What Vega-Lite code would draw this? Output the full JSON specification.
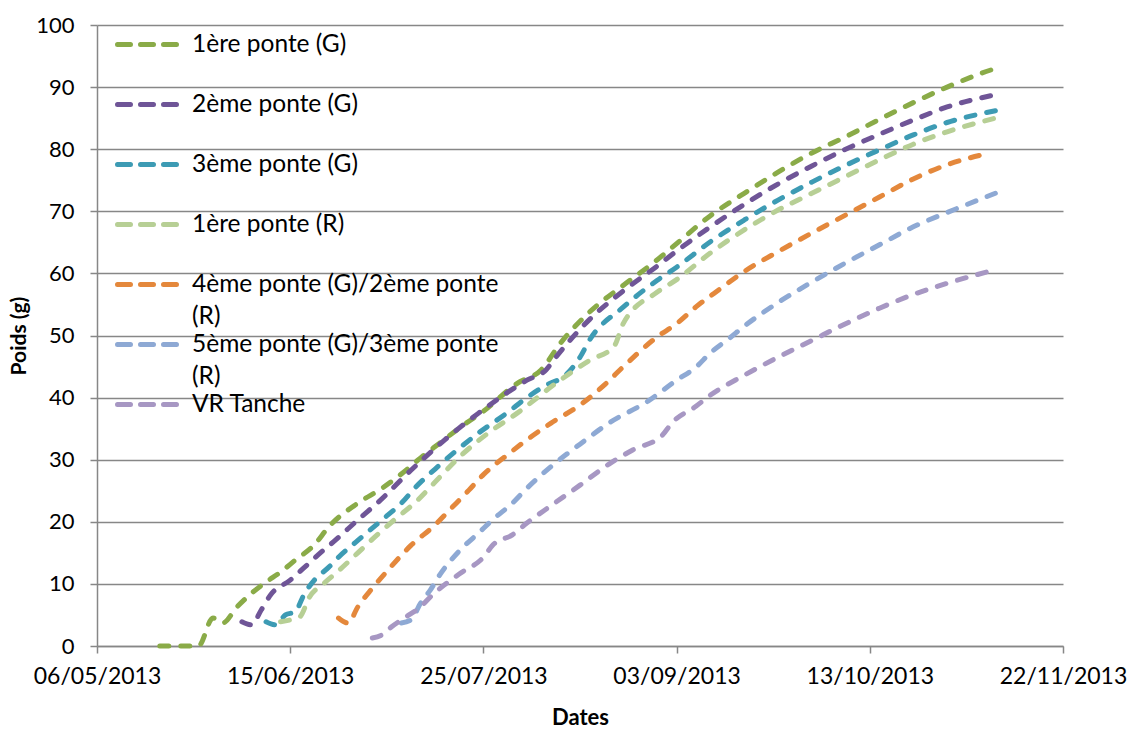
{
  "$schema": "https://vega.github.io/schema/vega-lite/v6.json",
  "width": 966,
  "height": 621,
  "autosize": {"type": "none"},
  "padding": {"left": 97, "top": 25, "right": 64, "bottom": 85},
  "background": "white",
  "config": {"view": {"stroke": null}, "font": "Lato"},
  "datasets": {
    "rows": [
      {"serie": "1ère ponte (G)", "date": "2013-05-19", "poids": 0},
      {"serie": "1ère ponte (G)", "date": "2013-05-27", "poids": 0},
      {"serie": "1ère ponte (G)", "date": "2013-05-30", "poids": 4.5},
      {"serie": "1ère ponte (G)", "date": "2013-06-01", "poids": 3.7},
      {"serie": "1ère ponte (G)", "date": "2013-06-04", "poids": 6.3},
      {"serie": "1ère ponte (G)", "date": "2013-06-07", "poids": 8.5},
      {"serie": "1ère ponte (G)", "date": "2013-06-10", "poids": 10.3},
      {"serie": "1ère ponte (G)", "date": "2013-06-13", "poids": 11.9},
      {"serie": "1ère ponte (G)", "date": "2013-06-16", "poids": 13.8},
      {"serie": "1ère ponte (G)", "date": "2013-06-20", "poids": 16.3},
      {"serie": "1ère ponte (G)", "date": "2013-06-23", "poids": 19.2},
      {"serie": "1ère ponte (G)", "date": "2013-06-29", "poids": 23},
      {"serie": "1ère ponte (G)", "date": "2013-07-04", "poids": 25.4},
      {"serie": "1ère ponte (G)", "date": "2013-07-08", "poids": 27.7},
      {"serie": "1ère ponte (G)", "date": "2013-07-12", "poids": 30.3},
      {"serie": "1ère ponte (G)", "date": "2013-07-16", "poids": 32.7},
      {"serie": "1ère ponte (G)", "date": "2013-07-20", "poids": 35.1},
      {"serie": "1ère ponte (G)", "date": "2013-07-25", "poids": 37.8},
      {"serie": "1ère ponte (G)", "date": "2013-08-01", "poids": 42.3},
      {"serie": "1ère ponte (G)", "date": "2013-08-06", "poids": 44.5},
      {"serie": "1ère ponte (G)", "date": "2013-08-10", "poids": 48.8},
      {"serie": "1ère ponte (G)", "date": "2013-08-16", "poids": 53.8},
      {"serie": "1ère ponte (G)", "date": "2013-08-23", "poids": 58.1},
      {"serie": "1ère ponte (G)", "date": "2013-08-30", "poids": 62.2},
      {"serie": "1ère ponte (G)", "date": "2013-09-03", "poids": 64.8},
      {"serie": "1ère ponte (G)", "date": "2013-09-10", "poids": 69.3},
      {"serie": "1ère ponte (G)", "date": "2013-09-17", "poids": 72.9},
      {"serie": "1ère ponte (G)", "date": "2013-09-24", "poids": 76.3},
      {"serie": "1ère ponte (G)", "date": "2013-10-01", "poids": 79.4},
      {"serie": "1ère ponte (G)", "date": "2013-10-08", "poids": 82},
      {"serie": "1ère ponte (G)", "date": "2013-10-15", "poids": 84.8},
      {"serie": "1ère ponte (G)", "date": "2013-10-22", "poids": 87.5},
      {"serie": "1ère ponte (G)", "date": "2013-10-29", "poids": 90},
      {"serie": "1ère ponte (G)", "date": "2013-11-05", "poids": 92.2},
      {"serie": "1ère ponte (G)", "date": "2013-11-08", "poids": 93},

      {"serie": "2ème ponte (G)", "date": "2013-06-05", "poids": 3.9},
      {"serie": "2ème ponte (G)", "date": "2013-06-07", "poids": 3.4},
      {"serie": "2ème ponte (G)", "date": "2013-06-09", "poids": 5.8},
      {"serie": "2ème ponte (G)", "date": "2013-06-11", "poids": 8.3},
      {"serie": "2ème ponte (G)", "date": "2013-06-15", "poids": 10.6},
      {"serie": "2ème ponte (G)", "date": "2013-06-18", "poids": 12.7},
      {"serie": "2ème ponte (G)", "date": "2013-06-22", "poids": 15.5},
      {"serie": "2ème ponte (G)", "date": "2013-06-24", "poids": 16.8},
      {"serie": "2ème ponte (G)", "date": "2013-06-29", "poids": 20.3},
      {"serie": "2ème ponte (G)", "date": "2013-07-03", "poids": 23},
      {"serie": "2ème ponte (G)", "date": "2013-07-10", "poids": 28.3},
      {"serie": "2ème ponte (G)", "date": "2013-07-17", "poids": 33.2},
      {"serie": "2ème ponte (G)", "date": "2013-07-24", "poids": 37.5},
      {"serie": "2ème ponte (G)", "date": "2013-08-03", "poids": 42.8},
      {"serie": "2ème ponte (G)", "date": "2013-08-07", "poids": 44.5},
      {"serie": "2ème ponte (G)", "date": "2013-08-09", "poids": 46.5},
      {"serie": "2ème ponte (G)", "date": "2013-08-16", "poids": 52.6},
      {"serie": "2ème ponte (G)", "date": "2013-08-23", "poids": 57.2},
      {"serie": "2ème ponte (G)", "date": "2013-08-30", "poids": 61.2},
      {"serie": "2ème ponte (G)", "date": "2013-09-03", "poids": 63.6},
      {"serie": "2ème ponte (G)", "date": "2013-09-10", "poids": 67.5},
      {"serie": "2ème ponte (G)", "date": "2013-09-17", "poids": 71.1},
      {"serie": "2ème ponte (G)", "date": "2013-09-24", "poids": 74.4},
      {"serie": "2ème ponte (G)", "date": "2013-10-01", "poids": 77.3},
      {"serie": "2ème ponte (G)", "date": "2013-10-08", "poids": 80},
      {"serie": "2ème ponte (G)", "date": "2013-10-15", "poids": 82.4},
      {"serie": "2ème ponte (G)", "date": "2013-10-22", "poids": 84.7},
      {"serie": "2ème ponte (G)", "date": "2013-10-29", "poids": 86.8},
      {"serie": "2ème ponte (G)", "date": "2013-11-07", "poids": 88.6},

      {"serie": "3ème ponte (G)", "date": "2013-06-10", "poids": 3.9},
      {"serie": "3ème ponte (G)", "date": "2013-06-12", "poids": 3.4},
      {"serie": "3ème ponte (G)", "date": "2013-06-14", "poids": 5},
      {"serie": "3ème ponte (G)", "date": "2013-06-16", "poids": 5.5},
      {"serie": "3ème ponte (G)", "date": "2013-06-18", "poids": 8.5},
      {"serie": "3ème ponte (G)", "date": "2013-06-20", "poids": 10.6},
      {"serie": "3ème ponte (G)", "date": "2013-06-23", "poids": 12.7},
      {"serie": "3ème ponte (G)", "date": "2013-06-25", "poids": 14.3},
      {"serie": "3ème ponte (G)", "date": "2013-06-29", "poids": 17},
      {"serie": "3ème ponte (G)", "date": "2013-07-04", "poids": 20.3},
      {"serie": "3ème ponte (G)", "date": "2013-07-08", "poids": 23},
      {"serie": "3ème ponte (G)", "date": "2013-07-11", "poids": 25.6},
      {"serie": "3ème ponte (G)", "date": "2013-07-15", "poids": 28.5},
      {"serie": "3ème ponte (G)", "date": "2013-07-19", "poids": 31.2},
      {"serie": "3ème ponte (G)", "date": "2013-07-24", "poids": 34.3},
      {"serie": "3ème ponte (G)", "date": "2013-07-30", "poids": 37.6},
      {"serie": "3ème ponte (G)", "date": "2013-08-03", "poids": 40},
      {"serie": "3ème ponte (G)", "date": "2013-08-07", "poids": 42},
      {"serie": "3ème ponte (G)", "date": "2013-08-11", "poids": 43.6},
      {"serie": "3ème ponte (G)", "date": "2013-08-14", "poids": 46.5},
      {"serie": "3ème ponte (G)", "date": "2013-08-16", "poids": 49.3},
      {"serie": "3ème ponte (G)", "date": "2013-08-23", "poids": 54.6},
      {"serie": "3ème ponte (G)", "date": "2013-08-30", "poids": 58.9},
      {"serie": "3ème ponte (G)", "date": "2013-09-03", "poids": 61},
      {"serie": "3ème ponte (G)", "date": "2013-09-10", "poids": 65.1},
      {"serie": "3ème ponte (G)", "date": "2013-09-17", "poids": 68.6},
      {"serie": "3ème ponte (G)", "date": "2013-09-24", "poids": 71.8},
      {"serie": "3ème ponte (G)", "date": "2013-10-01", "poids": 74.7},
      {"serie": "3ème ponte (G)", "date": "2013-10-08", "poids": 77.4},
      {"serie": "3ème ponte (G)", "date": "2013-10-15", "poids": 79.9},
      {"serie": "3ème ponte (G)", "date": "2013-10-22", "poids": 82.3},
      {"serie": "3ème ponte (G)", "date": "2013-10-29", "poids": 84.3},
      {"serie": "3ème ponte (G)", "date": "2013-11-08", "poids": 86.2},

      {"serie": "1ère ponte (R)", "date": "2013-06-13", "poids": 3.9},
      {"serie": "1ère ponte (R)", "date": "2013-06-15", "poids": 4.2},
      {"serie": "1ère ponte (R)", "date": "2013-06-17", "poids": 4.7},
      {"serie": "1ère ponte (R)", "date": "2013-06-19", "poids": 7.9},
      {"serie": "1ère ponte (R)", "date": "2013-06-22", "poids": 10.1},
      {"serie": "1ère ponte (R)", "date": "2013-06-25", "poids": 12.1},
      {"serie": "1ère ponte (R)", "date": "2013-06-29", "poids": 15},
      {"serie": "1ère ponte (R)", "date": "2013-07-03", "poids": 17.9},
      {"serie": "1ère ponte (R)", "date": "2013-07-07", "poids": 20.6},
      {"serie": "1ère ponte (R)", "date": "2013-07-11", "poids": 23.2},
      {"serie": "1ère ponte (R)", "date": "2013-07-15", "poids": 26.4},
      {"serie": "1ère ponte (R)", "date": "2013-07-20", "poids": 30.4},
      {"serie": "1ère ponte (R)", "date": "2013-07-26", "poids": 34.3},
      {"serie": "1ère ponte (R)", "date": "2013-08-01", "poids": 37.5},
      {"serie": "1ère ponte (R)", "date": "2013-08-09", "poids": 42.3},
      {"serie": "1ère ponte (R)", "date": "2013-08-16", "poids": 46},
      {"serie": "1ère ponte (R)", "date": "2013-08-21", "poids": 48.2},
      {"serie": "1ère ponte (R)", "date": "2013-08-23", "poids": 52},
      {"serie": "1ère ponte (R)", "date": "2013-08-30", "poids": 57},
      {"serie": "1ère ponte (R)", "date": "2013-09-03", "poids": 59},
      {"serie": "1ère ponte (R)", "date": "2013-09-10", "poids": 63.3},
      {"serie": "1ère ponte (R)", "date": "2013-09-17", "poids": 67},
      {"serie": "1ère ponte (R)", "date": "2013-09-24", "poids": 70.2},
      {"serie": "1ère ponte (R)", "date": "2013-10-01", "poids": 72.9},
      {"serie": "1ère ponte (R)", "date": "2013-10-08", "poids": 75.6},
      {"serie": "1ère ponte (R)", "date": "2013-10-15", "poids": 78.3},
      {"serie": "1ère ponte (R)", "date": "2013-10-22", "poids": 80.8},
      {"serie": "1ère ponte (R)", "date": "2013-10-29", "poids": 82.8},
      {"serie": "1ère ponte (R)", "date": "2013-11-08", "poids": 85},

      {"serie": "4ème ponte (G)/2ème ponte (R)", "date": "2013-06-25", "poids": 4.5},
      {"serie": "4ème ponte (G)/2ème ponte (R)", "date": "2013-06-27", "poids": 3.7},
      {"serie": "4ème ponte (G)/2ème ponte (R)", "date": "2013-06-29", "poids": 6.3},
      {"serie": "4ème ponte (G)/2ème ponte (R)", "date": "2013-07-02", "poids": 9.3},
      {"serie": "4ème ponte (G)/2ème ponte (R)", "date": "2013-07-05", "poids": 12},
      {"serie": "4ème ponte (G)/2ème ponte (R)", "date": "2013-07-10", "poids": 16.2},
      {"serie": "4ème ponte (G)/2ème ponte (R)", "date": "2013-07-15", "poids": 19.5},
      {"serie": "4ème ponte (G)/2ème ponte (R)", "date": "2013-07-18", "poids": 21.9},
      {"serie": "4ème ponte (G)/2ème ponte (R)", "date": "2013-07-22", "poids": 25.1},
      {"serie": "4ème ponte (G)/2ème ponte (R)", "date": "2013-07-25", "poids": 27.6},
      {"serie": "4ème ponte (G)/2ème ponte (R)", "date": "2013-07-30", "poids": 30.8},
      {"serie": "4ème ponte (G)/2ème ponte (R)", "date": "2013-08-03", "poids": 33.2},
      {"serie": "4ème ponte (G)/2ème ponte (R)", "date": "2013-08-08", "poids": 35.9},
      {"serie": "4ème ponte (G)/2ème ponte (R)", "date": "2013-08-14", "poids": 38.8},
      {"serie": "4ème ponte (G)/2ème ponte (R)", "date": "2013-08-19", "poids": 42},
      {"serie": "4ème ponte (G)/2ème ponte (R)", "date": "2013-08-23", "poids": 45},
      {"serie": "4ème ponte (G)/2ème ponte (R)", "date": "2013-08-30", "poids": 49.8},
      {"serie": "4ème ponte (G)/2ème ponte (R)", "date": "2013-09-03", "poids": 51.9},
      {"serie": "4ème ponte (G)/2ème ponte (R)", "date": "2013-09-07", "poids": 54.6},
      {"serie": "4ème ponte (G)/2ème ponte (R)", "date": "2013-09-12", "poids": 57.5},
      {"serie": "4ème ponte (G)/2ème ponte (R)", "date": "2013-09-17", "poids": 60.3},
      {"serie": "4ème ponte (G)/2ème ponte (R)", "date": "2013-09-24", "poids": 63.5},
      {"serie": "4ème ponte (G)/2ème ponte (R)", "date": "2013-10-01", "poids": 66.5},
      {"serie": "4ème ponte (G)/2ème ponte (R)", "date": "2013-10-08", "poids": 69.4},
      {"serie": "4ème ponte (G)/2ème ponte (R)", "date": "2013-10-15", "poids": 72.3},
      {"serie": "4ème ponte (G)/2ème ponte (R)", "date": "2013-10-22", "poids": 75.2},
      {"serie": "4ème ponte (G)/2ème ponte (R)", "date": "2013-10-29", "poids": 77.5},
      {"serie": "4ème ponte (G)/2ème ponte (R)", "date": "2013-11-07", "poids": 79.4},

      {"serie": "5ème ponte (G)/3ème ponte (R)", "date": "2013-07-08", "poids": 3.7},
      {"serie": "5ème ponte (G)/3ème ponte (R)", "date": "2013-07-10", "poids": 4.2},
      {"serie": "5ème ponte (G)/3ème ponte (R)", "date": "2013-07-12", "poids": 6.9},
      {"serie": "5ème ponte (G)/3ème ponte (R)", "date": "2013-07-14", "poids": 9},
      {"serie": "5ème ponte (G)/3ème ponte (R)", "date": "2013-07-16", "poids": 11.5},
      {"serie": "5ème ponte (G)/3ème ponte (R)", "date": "2013-07-20", "poids": 15.3},
      {"serie": "5ème ponte (G)/3ème ponte (R)", "date": "2013-07-24", "poids": 18.2},
      {"serie": "5ème ponte (G)/3ème ponte (R)", "date": "2013-07-27", "poids": 20.4},
      {"serie": "5ème ponte (G)/3ème ponte (R)", "date": "2013-07-31", "poids": 23},
      {"serie": "5ème ponte (G)/3ème ponte (R)", "date": "2013-08-03", "poids": 25.4},
      {"serie": "5ème ponte (G)/3ème ponte (R)", "date": "2013-08-08", "poids": 28.9},
      {"serie": "5ème ponte (G)/3ème ponte (R)", "date": "2013-08-14", "poids": 32.5},
      {"serie": "5ème ponte (G)/3ème ponte (R)", "date": "2013-08-20", "poids": 35.9},
      {"serie": "5ème ponte (G)/3ème ponte (R)", "date": "2013-08-28", "poids": 39.4},
      {"serie": "5ème ponte (G)/3ème ponte (R)", "date": "2013-09-03", "poids": 42.8},
      {"serie": "5ème ponte (G)/3ème ponte (R)", "date": "2013-09-07", "poids": 44.9},
      {"serie": "5ème ponte (G)/3ème ponte (R)", "date": "2013-09-10", "poids": 47.2},
      {"serie": "5ème ponte (G)/3ème ponte (R)", "date": "2013-09-14", "poids": 49.6},
      {"serie": "5ème ponte (G)/3ème ponte (R)", "date": "2013-09-17", "poids": 51.5},
      {"serie": "5ème ponte (G)/3ème ponte (R)", "date": "2013-09-24", "poids": 55.3},
      {"serie": "5ème ponte (G)/3ème ponte (R)", "date": "2013-10-01", "poids": 58.6},
      {"serie": "5ème ponte (G)/3ème ponte (R)", "date": "2013-10-08", "poids": 61.7},
      {"serie": "5ème ponte (G)/3ème ponte (R)", "date": "2013-10-15", "poids": 64.6},
      {"serie": "5ème ponte (G)/3ème ponte (R)", "date": "2013-10-22", "poids": 67.5},
      {"serie": "5ème ponte (G)/3ème ponte (R)", "date": "2013-10-29", "poids": 69.8},
      {"serie": "5ème ponte (G)/3ème ponte (R)", "date": "2013-11-08", "poids": 72.9},

      {"serie": "VR Tanche", "date": "2013-07-02", "poids": 1.3},
      {"serie": "VR Tanche", "date": "2013-07-04", "poids": 1.8},
      {"serie": "VR Tanche", "date": "2013-07-06", "poids": 3.1},
      {"serie": "VR Tanche", "date": "2013-07-09", "poids": 4.7},
      {"serie": "VR Tanche", "date": "2013-07-12", "poids": 6.3},
      {"serie": "VR Tanche", "date": "2013-07-14", "poids": 7.9},
      {"serie": "VR Tanche", "date": "2013-07-20", "poids": 11.6},
      {"serie": "VR Tanche", "date": "2013-07-25", "poids": 14.3},
      {"serie": "VR Tanche", "date": "2013-07-27", "poids": 16.3},
      {"serie": "VR Tanche", "date": "2013-07-31", "poids": 17.9},
      {"serie": "VR Tanche", "date": "2013-08-03", "poids": 19.8},
      {"serie": "VR Tanche", "date": "2013-08-08", "poids": 22.6},
      {"serie": "VR Tanche", "date": "2013-08-14", "poids": 25.9},
      {"serie": "VR Tanche", "date": "2013-08-20", "poids": 29.3},
      {"serie": "VR Tanche", "date": "2013-08-25", "poids": 31.6},
      {"serie": "VR Tanche", "date": "2013-08-31", "poids": 33.9},
      {"serie": "VR Tanche", "date": "2013-09-02", "poids": 35.9},
      {"serie": "VR Tanche", "date": "2013-09-07", "poids": 38.6},
      {"serie": "VR Tanche", "date": "2013-09-10", "poids": 40.4},
      {"serie": "VR Tanche", "date": "2013-09-17", "poids": 43.6},
      {"serie": "VR Tanche", "date": "2013-09-24", "poids": 46.5},
      {"serie": "VR Tanche", "date": "2013-10-01", "poids": 49.2},
      {"serie": "VR Tanche", "date": "2013-10-08", "poids": 51.9},
      {"serie": "VR Tanche", "date": "2013-10-15", "poids": 54.4},
      {"serie": "VR Tanche", "date": "2013-10-22", "poids": 56.6},
      {"serie": "VR Tanche", "date": "2013-10-29", "poids": 58.4},
      {"serie": "VR Tanche", "date": "2013-11-07", "poids": 60.4}
    ]
  },
  "data": {"name": "rows"},
  "mark": {"type": "line", "strokeWidth": 5, "strokeDash": [9, 12], "strokeCap": "round", "interpolate": "monotone"},
  "encoding": {
    "x": {
      "field": "date", "type": "temporal", "title": "Dates",
      "scale": {"type": "utc", "domain": [1367798400000, 1385078400000]},
      "axis": {
        "values": [1367798400000, 1371254400000, 1374710400000, 1378166400000, 1381622400000, 1385078400000],
        "labelExpr": "utcFormat(datum.value, '%d/%m/%Y')",
        "grid": false, "tickSize": 7, "tickColor": "#878787", "tickWidth": 1.5,
        "domainColor": "#878787", "domainWidth": 1.5,
        "labelFontSize": 23, "labelColor": "#000000", "labelPadding": 12,
        "labelFlush": false, "labelOverlap": false,
        "titleFontSize": 22, "titleFontWeight": "bold", "titleColor": "#000000", "titlePadding": 19
      }
    },
    "y": {
      "field": "poids", "type": "quantitative", "title": "Poids (g)",
      "scale": {"domain": [0, 100], "nice": false},
      "axis": {
        "values": [0, 10, 20, 30, 40, 50, 60, 70, 80, 90, 100],
        "grid": true, "gridColor": "#878787", "gridWidth": 1.5,
        "tickSize": 7, "tickColor": "#878787", "tickWidth": 1.5,
        "domainColor": "#878787", "domainWidth": 1.5,
        "labelFontSize": 22, "labelColor": "#000000", "labelPadding": 16,
        "titleFontSize": 21, "titleFontWeight": "bold", "titleColor": "#000000", "titlePadding": 6
      }
    },
    "color": {
      "field": "serie", "type": "nominal",
      "scale": {
        "domain": ["1ère ponte (G)", "2ème ponte (G)", "3ème ponte (G)", "1ère ponte (R)", "4ème ponte (G)/2ème ponte (R)", "5ème ponte (G)/3ème ponte (R)", "VR Tanche"],
        "range": ["#8AAB48", "#6F5597", "#3D9BB4", "#B7CF95", "#E4883C", "#8EA9D4", "#A797C3"]
      },
      "legend": {
        "title": null, "orient": "none", "legendX": 39, "legendY": 7, "padding": 0,
        "symbolType": "M-3.1,0H3.1", "symbolSize": 400, "symbolStrokeWidth": 5, "symbolDash": [13, 10],
        "symbolFillColor": "transparent",
        "labelFontSize": 24.5, "labelLimit": 500, "labelOffset": 31,
        "labelColor": "#000000", "rowPadding": 3,
        "labelExpr": "datum.label == '4ème ponte (G)/2ème ponte (R)' ? ['4ème ponte (G)/2ème ponte', '(R)'] : datum.label == '5ème ponte (G)/3ème ponte (R)' ? ['5ème ponte (G)/3ème ponte', '(R)'] : [datum.label, '']",
        "encode": {
          "labels": {"update": {"lineHeight": {"value": 32}}},
          "symbols": {"update": {"strokeCap": {"value": "round"}, "fill": {"value": "transparent"}}}
        }
      }
    }
  }
}
